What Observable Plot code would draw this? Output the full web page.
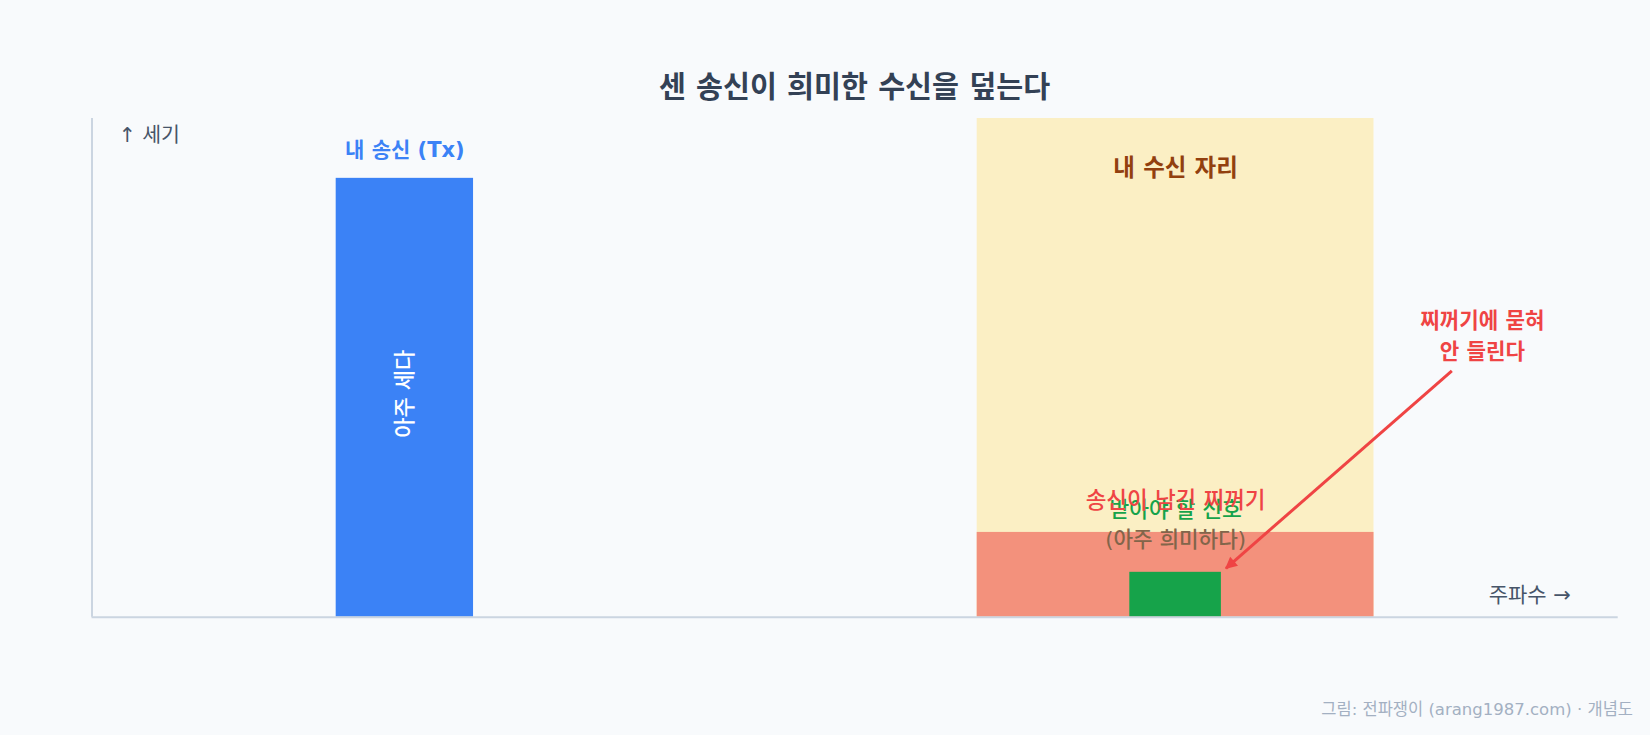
<!DOCTYPE html>
<html>
<head>
<meta charset="utf-8">
<script src="https://cdn.jsdelivr.net/npm/d3@7"></script>
<script src="https://cdn.jsdelivr.net/npm/@observablehq/plot@0.6"></script>
<style>
  html, body { margin: 0; padding: 0; background: #f8fafc; }
  body { width: 1650px; height: 735px; position: relative; overflow: hidden; font-family: "DejaVu Sans", "Noto Sans CJK KR", sans-serif; }
  #title { position: absolute; left: 91.5px; width: 1526px; top: 67px; line-height: 40px; text-align: center; font-size: 29.3px; font-weight: 700; color: #334155; }
  #caption { position: absolute; right: 17px; top: 698px; line-height: 24px; font-size: 16.5px; color: #a3b0c2; }
  #chart { position: absolute; left: 0; top: 0; }
</style>
</head>
<body>
<div id="chart"></div>
<div id="title">센 송신이 희미한 수신을 덮는다</div>
<div id="caption">그림: 전파쟁이 (arang1987.com) · 개념도</div>
<script>
// ---- data (relative units: frequency 0–100, power 0–100) ----
const bandNames = ["내 수신 자리", "송신이 남긴 찌꺼기", "내 송신", "받아야 할 신호"];
const bandX1 = [58, 58, 16, 68];
const bandX2 = [84, 84, 25, 74];
const bandTop = [100, 17, 88, 9];

const annoText = ["내 송신 (Tx)", "내 수신 자리", "아주 세다", "받아야 할 신호", "(아주 희미하다)", "송신이 남긴 찌꺼기", "찌꺼기에 묻혀\n안 들린다"];
const annoX = [20.5, 71, 20.5, 71, 71, 71, 91.1];
const annoY = [93.6, 89.9, 44.8, 21.4, 15.4, 23.4, 56.8];

const axisLabelText = ["↑ 세기", "주파수 →"];
const axisLabelX = [1.74, 96.9];
const axisLabelY = [96.6, 4.35];

const arrowFrom = [89.1, 49.4];
const arrowTo = [74.3, 9.8];

// ---- tables built from the arrays ----
const bands = bandNames.map((name, i) => ({name, x1: bandX1[i], x2: bandX2[i], y1: 0, y2: bandTop[i]}));
const anno = annoText.map((text, i) => ({text, x: annoX[i], y: annoY[i]}));
const axisLabels = axisLabelText.map((text, i) => ({text, x: axisLabelX[i], y: axisLabelY[i]}));
const arrows = [{x1: arrowFrom[0], y1: arrowFrom[1], x2: arrowTo[0], y2: arrowTo[1]}];

const bandColors = ["#fbefc4", "#f3917c", "#3b82f6", "#16a34a"];
const font = "DejaVu Sans, Noto Sans CJK KR, sans-serif";

function label(i, opts) {
  return Plot.text([anno[i]], {x: "x", y: "y", text: "text", fontFamily: font, fontSize: 20, ...opts});
}

const chart = Plot.plot({
  width: 1650,
  height: 735,
  marginLeft: 91.5,
  marginRight: 32.3,
  marginTop: 118,
  marginBottom: 118.3,
  style: {background: "transparent", fontFamily: font},
  x: {domain: [0, 100], axis: null},
  y: {domain: [0, 100], axis: null},
  color: {domain: bandNames, range: bandColors},
  marks: [
    Plot.rect(bands, {x1: "x1", x2: "x2", y1: "y1", y2: "y2", fill: "name"}),
    Plot.ruleX([0], {y1: 0, y2: 100, stroke: "#cbd5e1", strokeWidth: 2}),
    Plot.ruleY([0], {x1: 0, x2: 100, stroke: "#cbd5e1", strokeWidth: 2}),
    Plot.text([axisLabels[0]], {x: "x", y: "y", text: "text", fontFamily: font, fontSize: 20.5, fill: "#475569", textAnchor: "start"}),
    Plot.text([axisLabels[1]], {x: "x", y: "y", text: "text", fontFamily: font, fontSize: 21, fill: "#475569", textAnchor: "end"}),
    label(0, {fill: "#3b82f6", fontWeight: 700, fontSize: 21}),
    label(1, {fill: "#92400e", fontWeight: 700, fontSize: 23.5}),
    label(2, {fill: "#ffffff", rotate: -90, fontWeight: 500, fontSize: 22}),
    label(3, {fill: "#16a34a", fontWeight: 500, fontSize: 21.5}),
    label(4, {fill: "#82654a", fontWeight: 500, fontSize: 21.3}),
    label(5, {fill: "#ef4444", fontWeight: 500, fontSize: 22.5}),
    label(6, {fill: "#ef4444", fontWeight: 700, fontSize: 21.2, lineHeight: 1.44}),
    Plot.link(arrows, {x1: "x1", y1: "y1", x2: "x2", y2: "y2", stroke: "#ef4444", strokeWidth: 3, className: "arrowlink"})
  ]
});

// filled arrowhead marker for the link drawn above
const svg = d3.select(chart);
svg.append("defs").append("marker")
  .attr("id", "ahead")
  .attr("viewBox", "0 0 10 10")
  .attr("refX", 9)
  .attr("refY", 5)
  .attr("markerUnits", "userSpaceOnUse")
  .attr("markerWidth", 14)
  .attr("markerHeight", 12)
  .attr("orient", "auto")
  .append("path")
  .attr("d", "M0,0L10,5L0,10Z")
  .attr("fill", "#ef4444");
svg.selectAll(".arrowlink path").attr("marker-end", "url(#ahead)");

document.getElementById("chart").append(chart);
</script>
</body>
</html>
